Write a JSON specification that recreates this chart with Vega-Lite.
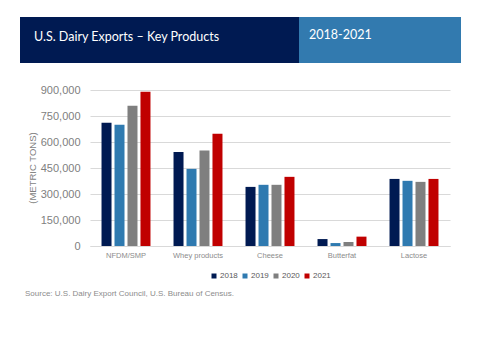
{
  "$schema": "https://vega.github.io/schema/vega-lite/v6.json",
  "padding": {"left": 20, "top": 17, "right": 0, "bottom": 0},
  "background": "white",
  "spacing": 21,
  "config": {"view": {"stroke": null}, "font": "Liberation Sans", "legend": {"layout": {"bottom": {"anchor": "middle"}}}},
  "title": {"text": "Source: U.S. Dairy Export Council, U.S. Bureau of Census.", "orient": "bottom", "anchor": "start", "frame": "bounds", "fontSize": 8, "fontWeight": "normal", "color": "#8c8c8c", "offset": 10, "dx": 5, "font": "Liberation Sans"},
  "resolve": {"scale": {"color": "independent"}, "legend": {"color": "independent"}},
  "vconcat": [
    {
      "spacing": 0,
      "hconcat": [
        {
          "width": 279,
          "height": 46,
          "view": {"fill": "#001A52", "stroke": null},
          "data": {"values": [{"label": "U.S. Dairy Exports –  Key Products"}]},
          "mark": {"type": "text", "align": "left", "baseline": "middle", "font": "Lato", "fontSize": 12.5, "color": "white", "dy": -3},
          "encoding": {"text": {"field": "label"}, "x": {"value": 14}}
        },
        {
          "width": 162,
          "height": 46,
          "view": {"fill": "#327AAF", "stroke": null},
          "data": {"values": [{"label": "2018-2021"}]},
          "mark": {"type": "text", "align": "left", "baseline": "middle", "font": "Lato", "fontSize": 12.5, "color": "white", "dy": -5},
          "encoding": {"text": {"field": "label"}, "x": {"value": 10}}
        }
      ]
    },
    {
      "spacing": 0,
      "resolve": {"scale": {"color": "independent"}, "legend": {"color": "independent"}},
      "hconcat": [
        {
          "width": 20,
          "height": 156,
          "data": {"values": [{"label": "(METRIC TONS)"}]},
          "mark": {"type": "text", "angle": 270, "align": "center", "baseline": "middle", "fontSize": 9.5, "color": "#7f7f7f", "dy": 3},
          "encoding": {"text": {"field": "label"}}
        },
        {
          "width": 360,
          "height": 156,
          "data": {"values": [
            {"product": "NFDM/SMP", "year": "2018", "tons": 711000},
            {"product": "NFDM/SMP", "year": "2019", "tons": 699000},
            {"product": "NFDM/SMP", "year": "2020", "tons": 809000},
            {"product": "NFDM/SMP", "year": "2021", "tons": 890000},
            {"product": "Whey products", "year": "2018", "tons": 543000},
            {"product": "Whey products", "year": "2019", "tons": 445000},
            {"product": "Whey products", "year": "2020", "tons": 551000},
            {"product": "Whey products", "year": "2021", "tons": 647000},
            {"product": "Cheese", "year": "2018", "tons": 341000},
            {"product": "Cheese", "year": "2019", "tons": 353000},
            {"product": "Cheese", "year": "2020", "tons": 353000},
            {"product": "Cheese", "year": "2021", "tons": 399000},
            {"product": "Butterfat", "year": "2018", "tons": 40000},
            {"product": "Butterfat", "year": "2019", "tons": 17000},
            {"product": "Butterfat", "year": "2020", "tons": 23000},
            {"product": "Butterfat", "year": "2021", "tons": 54000},
            {"product": "Lactose", "year": "2018", "tons": 387000},
            {"product": "Lactose", "year": "2019", "tons": 376000},
            {"product": "Lactose", "year": "2020", "tons": 370000},
            {"product": "Lactose", "year": "2021", "tons": 387000}
          ]},
          "mark": {"type": "bar"},
          "encoding": {
            "x": {
              "field": "product", "type": "nominal",
              "sort": ["NFDM/SMP", "Whey products", "Cheese", "Butterfat", "Lactose"],
              "scale": {"paddingInner": 0.32, "paddingOuter": 0.16},
              "axis": {"title": null, "labelAngle": 0, "labelFontSize": 7.5, "labelColor": "#8c8c8c", "ticks": false, "labelPadding": 5, "domainColor": "#d9d9d9"}
            },
            "xOffset": {"field": "year", "type": "nominal", "scale": {"paddingInner": 0.23}},
            "y": {
              "field": "tons", "type": "quantitative",
              "scale": {"domain": [0, 900000]},
              "axis": {"values": [0, 150000, 300000, 450000, 600000, 750000, 900000], "format": ",d", "title": null, "labelFontSize": 11, "labelColor": "#808080", "labelPadding": 10, "ticks": false, "domain": false, "gridColor": "#d9d9d9"}
            },
            "color": {
              "field": "year", "type": "nominal",
              "scale": {"domain": ["2018", "2019", "2020", "2021"], "range": ["#001A52", "#2F7AB0", "#7F7F7F", "#C00000"]},
              "legend": {"orient": "bottom", "title": null, "symbolType": "square", "symbolSize": 25, "symbolStrokeWidth": 0, "labelFontSize": 8, "labelColor": "#595959", "offset": 13, "labelOffset": 2, "columnPadding": 3}
            }
          }
        }
      ]
    }
  ]
}
